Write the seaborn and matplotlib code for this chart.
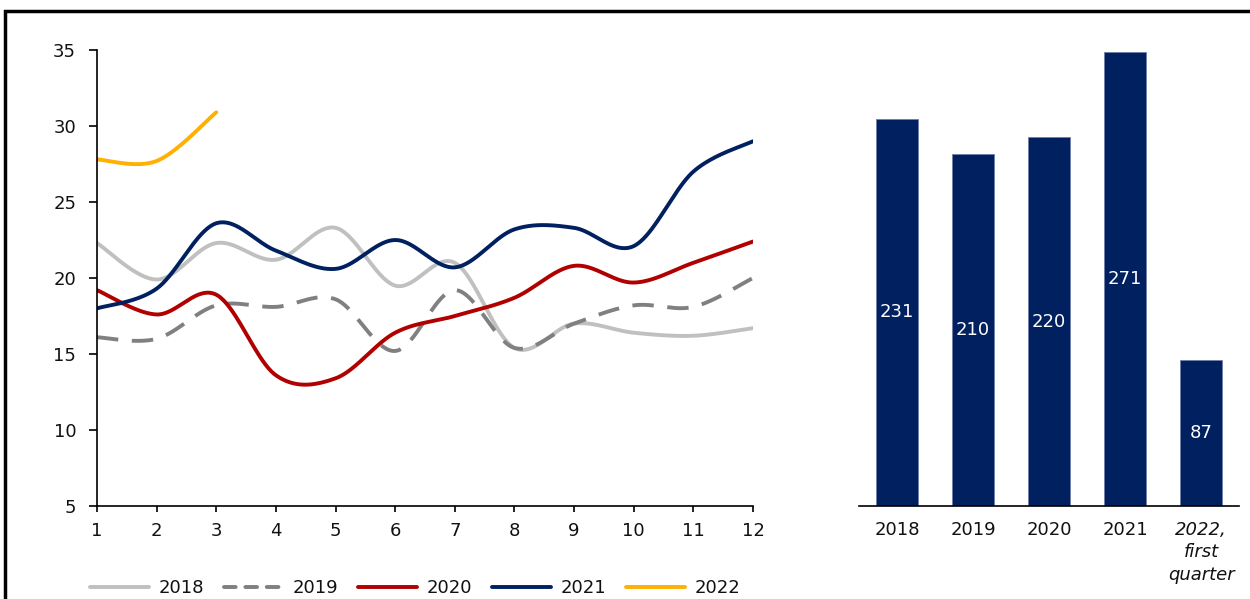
import numpy as np
import pandas as pd
import matplotlib
matplotlib.use("Agg")
import matplotlib.pyplot as plt
from matplotlib.patches import Rectangle
from matplotlib.lines import Line2D
import seaborn as sns

# ---------------- data ----------------
months = list(range(1, 13))
s2018 = [22.3, 19.9, 22.3, 21.2, 23.3, 19.5, 21.0, 15.4, 17.0, 16.4, 16.2, 16.7]
s2019 = [16.1, 16.0, 18.2, 18.1, 18.6, 15.2, 19.2, 15.4, 17.0, 18.2, 18.1, 20.0]
s2020 = [19.2, 17.6, 18.9, 13.6, 13.4, 16.4, 17.5, 18.7, 20.8, 19.7, 21.0, 22.4]
s2021 = [18.0, 19.3, 23.6, 21.8, 20.6, 22.5, 20.7, 23.2, 23.3, 22.1, 27.0, 29.0]
s2022 = [27.8, 27.7, 30.9]
series_names = ["2018", "2019", "2020", "2021", "2022"]

bar_cats = ["2018", "2019", "2020", "2021", "2022,\nfirst\nquarter"]
bar_vals = [231, 210, 220, 271, 87]

# ---------------- style ----------------
sns.set_theme(style="white")
plt.rcParams["font.family"] = ["DejaVu Sans"]
FS = 13
plt.rcParams["font.size"] = FS

colors = {"2018": "#c0c0c0", "2019": "#808080", "2020": "#b00000",
          "2021": "#002060", "2022": "#ffb000"}
navy = "#002060"
txt = "#111111"


def smooth(x, y, n=40):
    """Excel-like smoothed rendering (cubic Bezier through the points)."""
    x = np.asarray(x, float)
    y = np.asarray(y, float)
    if len(x) < 3:
        return x, y
    px = np.concatenate([[x[0]], x, [x[-1]]])
    py = np.concatenate([[y[0]], y, [y[-1]]])
    xs, ys = [], []
    t = np.linspace(0, 1, n)
    for i in range(1, len(px) - 2):
        p0 = np.array([px[i], py[i]])
        p3 = np.array([px[i + 1], py[i + 1]])
        c1 = p0 + (np.array([px[i + 1], py[i + 1]]) - np.array([px[i - 1], py[i - 1]])) / 6
        c2 = p3 - (np.array([px[i + 2], py[i + 2]]) - np.array([px[i], py[i]])) / 6
        b = ((1 - t) ** 3)[:, None] * p0 + (3 * (1 - t) ** 2 * t)[:, None] * c1 \
            + (3 * (1 - t) * t ** 2)[:, None] * c2 + (t ** 3)[:, None] * p3
        if i > 1:
            b = b[1:]
        xs.append(b[:, 0])
        ys.append(b[:, 1])
    return np.concatenate(xs), np.concatenate(ys)


fig = plt.figure(figsize=(12.5, 5.99), dpi=100)
ax = fig.add_axes([97 / 1250, 1 - 506 / 599, (753 - 97) / 1250, (506 - 50) / 599])
ax2 = fig.add_axes([859 / 1250, 1 - 506 / 599, (1239 - 859) / 1250, (506 - 50) / 599])

all_series = {"2018": s2018, "2019": s2019, "2020": s2020, "2021": s2021, "2022": s2022}
handles = []
LW = 2.8
for name in series_names:
    vals = all_series[name]
    xs, ys = smooth(months[:len(vals)], vals)
    df = pd.DataFrame({"month": xs, "value": ys})
    ls = (0, (5.5, 3.5)) if name == "2019" else "-"
    sns.lineplot(data=df, x="month", y="value", ax=ax, color=colors[name],
                 linewidth=LW, linestyle=ls, sort=False, estimator=None)
    handles.append(Line2D([0], [0], color=colors[name], lw=LW,
                          linestyle=(0, (3, 2.5)) if name == "2019" else "-",
                          solid_capstyle="round", dash_capstyle="round"))

ax.set_xlim(1, 12)
ax.set_ylim(5, 35)
ax.set_xticks(months)
ax.set_yticks([5, 10, 15, 20, 25, 30, 35])
ax.set_xlabel("")
ax.set_ylabel("")
for s in ["top", "right"]:
    ax.spines[s].set_visible(False)
for s in ["left", "bottom"]:
    ax.spines[s].set_color("black")
    ax.spines[s].set_linewidth(1.2)
ax.tick_params(axis="y", direction="out", length=6, width=1.2, pad=9,
               left=True, labelsize=FS, colors="black", labelcolor=txt)
ax.tick_params(axis="x", direction="out", length=4.5, width=1.2, pad=7,
               bottom=True, labelsize=FS, colors="black", labelcolor=txt)

# ---------------- bars ----------------
bdf = pd.DataFrame({"cat": bar_cats, "val": bar_vals})
sns.barplot(data=bdf, x="cat", y="val", color=navy, saturation=1, width=0.55,
            ax=ax2, edgecolor="#6f7fa8", linewidth=0.6)
ax2.set_ylim(0, 272)
ax2.set_xlim(-0.5, 4.5)
ax2.set_xlabel("")
ax2.set_ylabel("")
ax2.set_yticks([])
for s in ["top", "right", "left"]:
    ax2.spines[s].set_visible(False)
ax2.spines["bottom"].set_color("black")
ax2.spines["bottom"].set_linewidth(1.2)
ax2.tick_params(axis="x", length=0, pad=11, labelsize=FS, colors="black", labelcolor=txt)
labels = ax2.get_xticklabels()
labels[-1].set_fontstyle("italic")
labels[-1].set_linespacing(1.3)
for c in ax2.containers:
    ax2.bar_label(c, labels=[str(v) for v in bar_vals], label_type="center",
                  color="white", fontsize=FS)

# ---------------- legend ----------------
fig.legend(handles, series_names, loc="center", bbox_to_anchor=(415 / 1250, 1 - 588 / 599),
           ncol=5, frameon=False, handlelength=3.3, handletextpad=0.5,
           columnspacing=1.1, fontsize=FS, labelcolor=txt)

# ---------------- outer frame ----------------
fig.add_artist(Rectangle((5 / 1250, -0.1), 1.2, (1 - 11 / 599) + 0.1,
                         transform=fig.transFigure, fill=False, lw=2.5,
                         ec="black", clip_on=False))

fig.savefig("out.png", dpi=100)
